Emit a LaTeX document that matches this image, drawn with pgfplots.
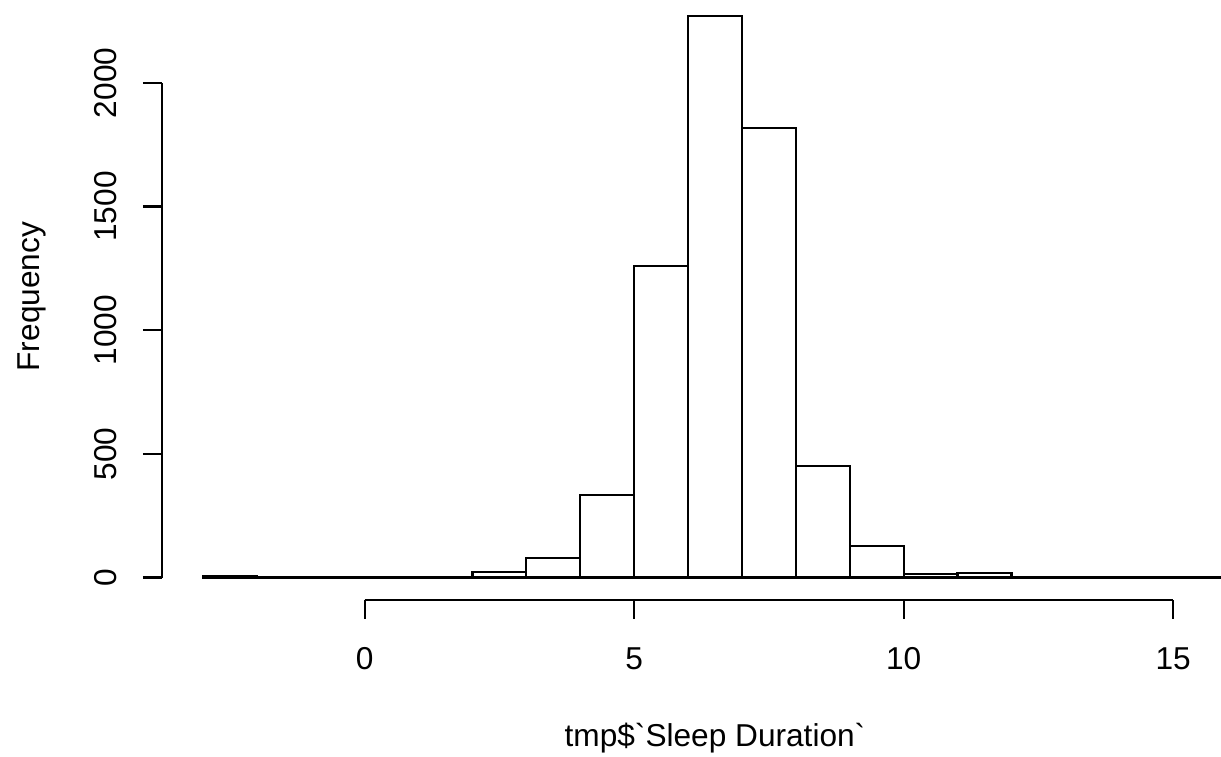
\documentclass[border=0pt]{standalone}
\usepackage{fontspec}
\setmainfont{Liberation Sans}[Ligatures=TeXOff]
\usepackage{pgfplots}
\pgfplotsset{compat=1.18}

% histogram counts, bins of width 1 from -3 to 16 (last y only closes the interval)
\begin{document}
\begin{tikzpicture}
\path[use as bounding box] (0,0) rectangle (12.21cm,7.57cm);
\clip (0,0) rectangle (12.21cm,7.57cm);
\begin{axis}[
    at={(1.62cm,1.57cm)}, anchor=south west,
    scale only axis, width=11.06cm, height=6.066cm,
    xmin=-3.76, xmax=16.76, ymin=-90.84, ymax=2361.84,
    clip=false,
    axis x line=bottom, axis y line=left,
    axis line style={draw=none},
    xtick={0,5,10,15}, ytick={0,500,1000,1500,2000},
    tick align=outside, major tick length=0.19cm,
    tick style={black, line width=0.6pt},
    font=\fontsize{9}{11}\selectfont,
    /pgf/number format/assume math mode=true,
    /pgf/number format/1000 sep={},
    scaled y ticks=false,
    yticklabel style={rotate=90, anchor=base, yshift=0.26cm},
    xticklabel style={anchor=base, yshift=-0.51cm},
    xlabel={tmp\$`Sleep Duration`},
    ylabel={Frequency},
    xlabel style={at={(axis description cs:0.5,0)}, anchor=base, yshift=-1.47cm},
    ylabel style={at={(axis description cs:0,0.5)}, anchor=base, yshift=1.22cm},
]
\addplot[ybar interval, draw=black, fill=white, line width=0.6pt] coordinates {
    (-3,5)(-2,0)(-1,0)(0,0)(1,3)(2,22)(3,78)(4,335)(5,1261)(6,2271)
    (7,1818)(8,452)(9,127)(10,14)(11,20)(12,3)(13,0)(14,0)(15,0)(16,0)};
\draw[line width=0.6pt] (axis cs:0,-90.84) -- (axis cs:15,-90.84);
\draw[line width=0.6pt] (axis cs:-3.76,0) -- (axis cs:-3.76,2000);
\end{axis}
\end{tikzpicture}
\end{document}
